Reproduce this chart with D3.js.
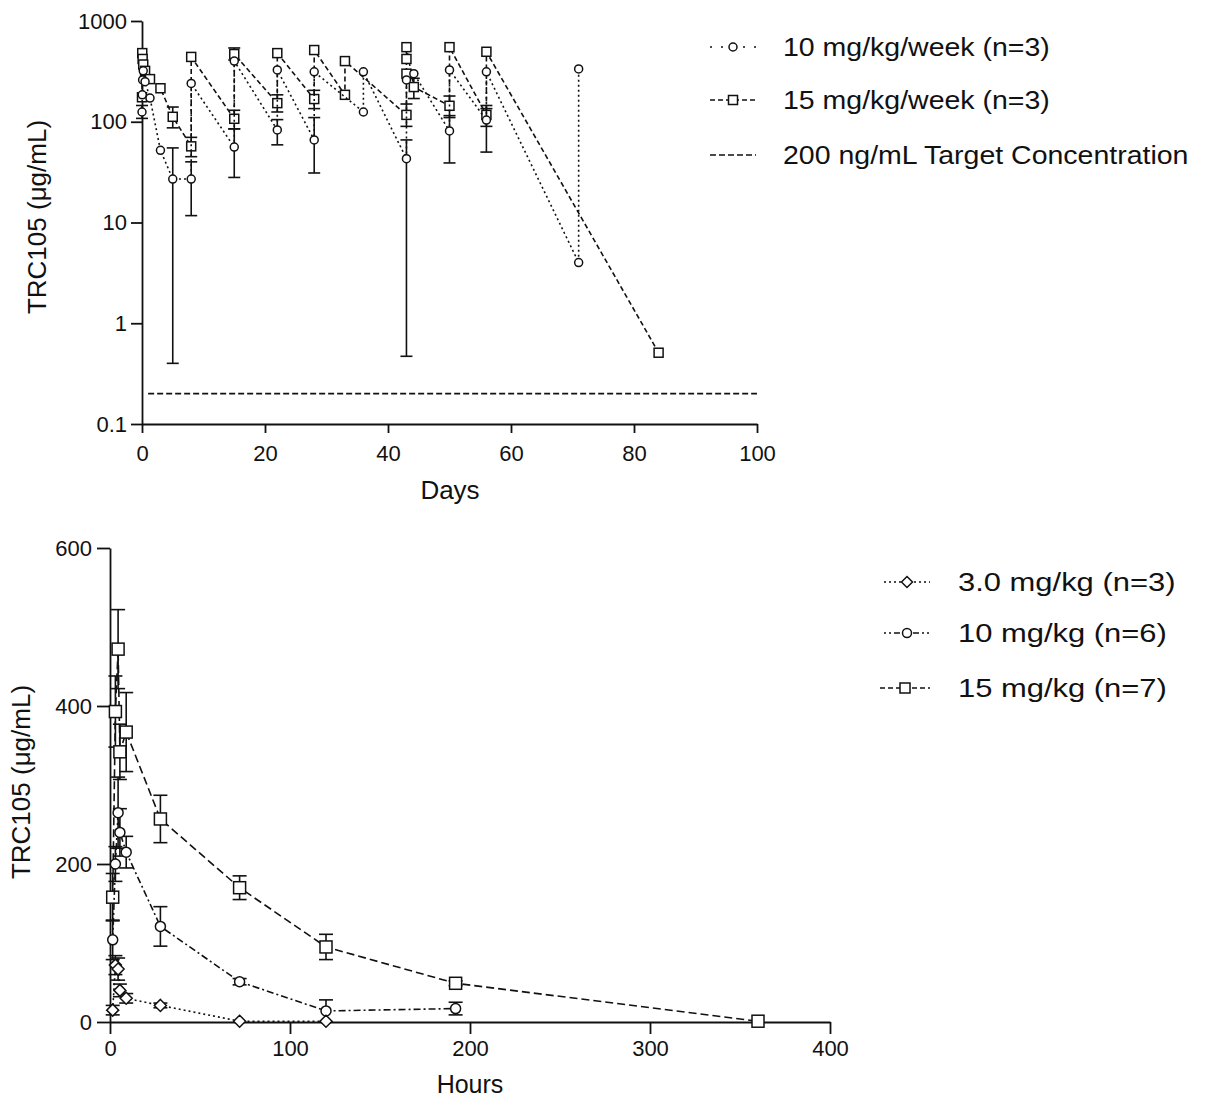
<!DOCTYPE html>
<html>
<head>
<meta charset="utf-8">
<script src="https://cdn.jsdelivr.net/npm/d3@7"></script>
<style>
  body { margin: 0; background: #fff; }
  svg text { font-family: "Liberation Sans", Arial, sans-serif; fill: #111; }
</style>
</head>
<body>
<div id="chart"></div>
<script>
// ---- top panel: weekly dosing, days vs concentration (log) ----
// null in lo/hi = no error bar on that point
const days10 = [0,   0.04, 0.1, 0.2, 0.5, 1.3, 3,  5,   8,    8,   15, 15,  22, 22,  28, 28,  36,  36,  43,   43,  44.2, 50, 50,  56,  56,  71, 71];
const conc10 = [125, 185,  260, 320, 250, 172, 52, 27,  27,   240, 56, 400, 83, 327, 66, 313, 125, 313, 43,   260, 300,  81, 327, 104, 313, 4,  334];
const lo10   = [108, null, null,null,null,null,null,0.4, 11.7, null,28, null,59, null,31, null,null,null,0.47, null,null, 39, null,50,  null,null,null];
const hi10   = [145, null, null,null,null,null,null,55,  40,   null,85, null,105,null,110,null,null,null,66,   null,null, 115,null,135, null,null,null];

const days15 = [0,   0.04, 0.1, 0.2, 0.5, 1.3, 3,   5,   8,  8,   15,  15,  22,  22,  28,  28,  33,  33,  43,  43,  43,  43,  44.2, 50,  50,  56,  56,  84];
const conc15 = [175, 480,  420, 370, 320, 265, 215, 112, 57, 440, 107, 470, 153, 480, 168, 515, 185, 400, 117, 300, 420, 550, 221,  144, 550, 117, 495, 0.51];
const lo15   = [null,null, null,null,null,null,null,87,  45, null,85,  410, 125, null,135, null,null,null,90,  null,null,null,170,  110, null,90,  null,null];
const hi15   = [null,null, null,null,null,null,null,140, 70, null,130, 540, 185, null,205, null,null,null,150, null,null,null,270,  180, null,145, null,null];

const targetConc = 0.2;
const dayTicks = [0, 20, 40, 60, 80, 100];
const logTicks = [0.1, 1, 10, 100, 1000];
const topLegend = ["10 mg/kg/week (n=3)", "15 mg/kg/week (n=3)", "200 ng/mL Target Concentration"];

// ---- bottom panel: single dose, hours vs concentration ----
const hours3  = [1.5, 3,  4.5, 5.5, 9,  28, 72, 120];
const mgkg3   = [15,  72, 67,  40,  30, 21, 1,  1];
const sd3     = [6,   12, 14,  8,   6,  3,  0,  0];
const hours10 = [1.5, 3,   4.5, 5.5, 9,   28,  72, 120, 192];
const mgkg10  = [104, 200, 265, 240, 215, 121, 51, 14,  17];
const sd10    = [25,  22,  45,  30,  20,  25,  4,  14,  8];
const hours15 = [1.5, 3,   4.5, 5.5, 9,   28,  72,  120, 192, 360];
const mgkg15  = [158, 393, 472, 342, 367, 257, 170, 95,  49,  1];
const sd15    = [30,  45,  50,  35,  50,  30,  15,  16,  3,   0];

const hourTicks = [0, 100, 200, 300, 400];
const linTicks = [0, 200, 400, 600];
const bottomLegend = ["3.0 mg/kg (n=3)", "10 mg/kg (n=6)", "15 mg/kg (n=7)"];

const ink = "#111";
const svg = d3.select("#chart").append("svg")
  .attr("width", 1209)
  .attr("height", 1115);

function styleAxis(g, size) {
  g.select(".domain").attr("stroke", ink).attr("stroke-width", 1.8);
  g.selectAll(".tick line").attr("stroke", ink).attr("stroke-width", 1.8);
  g.selectAll(".tick text").attr("font-size", size).attr("fill", ink)
    .style("font-family", '"Liberation Sans", Arial, sans-serif');
}

// marker shapes: white fill, dark outline
function addMarker(sel, shape, s) {
  if (shape === "circle") {
    sel.append("circle").attr("r", s / 2);
  } else if (shape === "square") {
    sel.append("rect").attr("x", -s / 2).attr("y", -s / 2).attr("width", s).attr("height", s);
  } else {
    const h = s / 2;
    sel.append("path").attr("d", `M0,${-h}L${h},0L0,${h}L${-h},0Z`);
  }
  sel.attr("fill", "#fff").attr("stroke", ink).attr("stroke-width", 1.5);
}

function drawSeries(g, xs, ys, lo, hi, x, y, dash, shape, size, cap) {
  const pts = xs.map((d, i) => [x(d), y(ys[i])]);
  g.append("path")
    .attr("d", d3.line()(pts))
    .attr("fill", "none")
    .attr("stroke", ink)
    .attr("stroke-width", 1.6)
    .attr("stroke-dasharray", dash);

  // error bars with caps
  xs.forEach((d, i) => {
    if (lo[i] == null || hi[i] == null) return;
    const cx = x(d), y1 = y(lo[i]), y2 = y(hi[i]);
    const e = g.append("g").attr("stroke", ink).attr("stroke-width", 1.6);
    e.append("line").attr("x1", cx).attr("x2", cx).attr("y1", y1).attr("y2", y2);
    e.append("line").attr("x1", cx - cap).attr("x2", cx + cap).attr("y1", y1).attr("y2", y1);
    e.append("line").attr("x1", cx - cap).attr("x2", cx + cap).attr("y1", y2).attr("y2", y2);
  });

  pts.forEach(p => {
    addMarker(g.append("g").attr("transform", `translate(${p[0]},${p[1]})`), shape, size);
  });
}

function legendRow(g, x0, x1, y, dash, shape, size, tx, txt, fs, sx) {
  g.append("line").attr("x1", x0).attr("x2", x1).attr("y1", y).attr("y2", y)
    .attr("stroke", ink).attr("stroke-width", 1.6).attr("stroke-dasharray", dash);
  if (shape) addMarker(g.append("g").attr("transform", `translate(${(x0 + x1) / 2},${y})`), shape, size);
  g.append("text")
    .attr("transform", `translate(${tx},${y}) scale(${sx},1)`)
    .attr("dy", "0.36em")
    .attr("font-size", fs)
    .text(txt);
}

/* TOP PANEL */
const xDay = d3.scaleLinear().domain([0, 100]).range([142, 757]);
const yLog = d3.scaleLog().domain([0.1, 1000]).range([424, 21]);
const topPanel = svg.append("g");

topPanel.append("g").attr("transform", "translate(0,424)")
  .call(d3.axisBottom(xDay).tickValues(dayTicks).tickSize(9).tickPadding(12).tickSizeOuter(0))
  .call(g => styleAxis(g, 22));
topPanel.append("g").attr("transform", "translate(142,0)")
  .call(d3.axisLeft(yLog).tickValues(logTicks).tickFormat(d3.format("~g")).tickSize(11).tickPadding(4).tickSizeOuter(0))
  .call(g => styleAxis(g, 22));

// target concentration line
topPanel.append("line")
  .attr("x1", xDay(1)).attr("x2", xDay(100))
  .attr("y1", yLog(targetConc)).attr("y2", yLog(targetConc))
  .attr("stroke", ink).attr("stroke-width", 1.6).attr("stroke-dasharray", "6,3");

drawSeries(topPanel.append("g"), days15, conc15, lo15, hi15, xDay, yLog, "5,3", "square", 9, 6);
drawSeries(topPanel.append("g"), days10, conc10, lo10, hi10, xDay, yLog, "2,3", "circle", 8, 6);

topPanel.append("text").attr("x", 450).attr("y", 499).attr("text-anchor", "middle").attr("font-size", 26).text("Days");
topPanel.append("text").attr("transform", "translate(46,217) rotate(-90)").attr("text-anchor", "middle")
  .attr("font-size", 26).text("TRC105 (μg/mL)");

const legTop = svg.append("g");
legendRow(legTop, 710, 756, 47, "2,9", "circle", 8, 783, topLegend[0], 25, 1.14);
legendRow(legTop, 710, 756, 100, "5,3", "square", 9, 783, topLegend[1], 25, 1.14);
legendRow(legTop, 710, 756, 155, "6,3", null, 0, 783, topLegend[2], 25, 1.14);

/* BOTTOM PANEL */
const xHour = d3.scaleLinear().domain([0, 400]).range([110, 830]);
const yLin = d3.scaleLinear().domain([0, 600]).range([1022, 548]);
const botPanel = svg.append("g");

botPanel.append("g").attr("transform", "translate(0,1022)")
  .call(d3.axisBottom(xHour).tickValues(hourTicks).tickSize(12).tickPadding(6).tickSizeOuter(0))
  .call(g => styleAxis(g, 22));
botPanel.append("g").attr("transform", "translate(110,0)")
  .call(d3.axisLeft(yLin).tickValues(linTicks).tickSize(13).tickPadding(5).tickSizeOuter(0))
  .call(g => styleAxis(g, 22));

const err = (v, s) => [v.map((d, i) => s[i] ? d - s[i] : null), v.map((d, i) => s[i] ? d + s[i] : null)];
const e15 = err(mgkg15, sd15), e10 = err(mgkg10, sd10), e3 = err(mgkg3, sd3);

drawSeries(botPanel.append("g"), hours15, mgkg15, e15[0], e15[1], xHour, yLin, "8,4", "square", 12, 7);
drawSeries(botPanel.append("g"), hours10, mgkg10, e10[0], e10[1], xHour, yLin, "7,3,2,3", "circle", 10, 7);
drawSeries(botPanel.append("g"), hours3, mgkg3, e3[0], e3[1], xHour, yLin, "2,3", "diamond", 12, 7);

botPanel.append("text").attr("x", 470).attr("y", 1093).attr("text-anchor", "middle").attr("font-size", 25).text("Hours");
botPanel.append("text").attr("transform", "translate(30,782) rotate(-90)").attr("text-anchor", "middle")
  .attr("font-size", 26).text("TRC105 (μg/mL)");

const legBot = svg.append("g");
legendRow(legBot, 884, 930, 582, "2,3", "diamond", 11, 958, bottomLegend[0], 26, 1.19);
legendRow(legBot, 884, 930, 633, "2,3,2,3,6,3", "circle", 9, 958, bottomLegend[1], 26, 1.19);
legendRow(legBot, 880, 930, 688, "5,3", "square", 10, 958, bottomLegend[2], 26, 1.19);
</script>
</body>
</html>
